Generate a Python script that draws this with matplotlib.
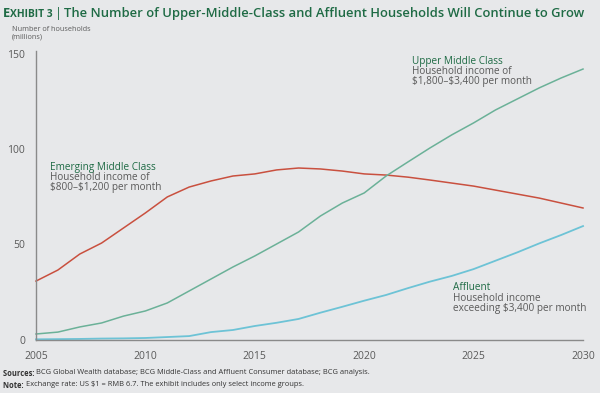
import matplotlib.pyplot as plt
from matplotlib import font_manager

years = list(range(2005, 2031))
emerging = [30.7, 36.5, 44.9, 50.7, 58.6, 66.5, 74.9, 80.1, 83.3, 85.9, 87.0, 89.1, 90.1,
            89.6, 88.5, 87.0, 86.4, 85.3, 83.8, 82.2, 80.6, 78.5, 76.4, 74.3, 71.7, 69.1]
upper_middle = [2.9, 3.9, 6.6, 8.7, 12.3, 15.0, 19.2, 25.5, 31.8, 38.1, 43.9, 50.2, 56.5,
                64.9, 71.7, 77.0, 85.9, 93.3, 100.6, 107.5, 113.8, 120.6, 126.4, 132.2, 137.4, 142.1]
affluent = [0.1, 0.2, 0.3, 0.5, 0.6, 0.8, 1.3, 1.8, 3.9, 5.0, 7.1, 8.8, 10.8,
            14.1, 17.2, 20.4, 23.4, 27.0, 30.4, 33.4, 37.0, 41.4, 45.8, 50.5, 54.9, 59.6]
y_ticks = [0, 50, 100, 150]
x_ticks = [2005, 2010, 2015, 2020, 2025, 2030]

BG = "#E7E8EA"
GREEN_TXT = "#1F6B45"
GREY_TXT = "#5A5A5A"
RED = "#C9503F"
GREEN = "#6BB198"
BLUE = "#6DC3D6"
FONT = "Open Sans"

installed = {f.name for f in font_manager.fontManager.ttflist}
SMALL = "Liberation Sans Narrow" if "Liberation Sans Narrow" in installed else FONT
small_scale = 1.0 if SMALL != FONT else 0.82

plt.rcParams["font.family"] = [FONT, "DejaVu Sans"]
plt.rcParams["text.parse_math"] = False

fig = plt.figure(figsize=(6, 3.93), dpi=100, facecolor=BG)
ax = fig.add_axes([0.06, 0.1361, 0.9117, 0.7265], facecolor=BG)

ax.plot(years, emerging, color=RED, lw=1.1, clip_on=False)
ax.plot(years, upper_middle, color=GREEN, lw=1.1, clip_on=False)
ax.plot(years, affluent, color=BLUE, lw=1.3, clip_on=False)

ax.set_xlim(2005, 2030)
ax.set_ylim(0, 150)
ax.set_xticks(x_ticks)
ax.set_yticks(y_ticks)
ax.tick_params(length=0, labelsize=7.5, labelcolor=GREY_TXT)
ax.tick_params(axis="x", pad=8)
ax.tick_params(axis="y", pad=8)
for s in ["top", "right"]:
    ax.spines[s].set_visible(False)
for s in ["left", "bottom"]:
    ax.spines[s].set_color("#8A8A8A")
    ax.spines[s].set_linewidth(1.0)
ax.spines["left"].set_bounds(0, 151.5)
ax.spines["bottom"].set_position(("data", -0.3))


# series labels
def series_label(x, y, name, lines):
    ax.text(x, y, name, color=GREEN_TXT, fontsize=7.2, va="center", ha="left")
    for i, t in enumerate(lines):
        ax.text(x, y - 5.4 * (i + 1), t, color=GREY_TXT, fontsize=7.2, va="center", ha="left")


series_label(2005.65, 90.4, "Emerging Middle Class", ["Household income of", "$800–$1,200 per month"])
series_label(2022.2, 146.3, "Upper Middle Class", ["Household income of", "$1,800–$3,400 per month"])
series_label(2024.05, 27.1, "Affluent", ["Household income", "exceeding $3,400 per month"])

fig.text(0.02, 0.915, "Number of households\n(millions)", fontsize=6.4 * small_scale, color=GREY_TXT,
         va="center", ha="left", linespacing=1.1, family=SMALL)

renderer = fig.canvas.get_renderer()


def text_run(x, y, parts, color, va="baseline", family=FONT):
    # consecutive pieces of text on one line, each with its own size/weight
    for txt, size, weight in parts:
        t = fig.text(x / 600, 1 - y / 393, txt, fontsize=size, fontweight=weight,
                     color=color, va=va, ha="left", family=family)
        x += t.get_window_extent(renderer).width
    return x


# title with small-caps exhibit label
text_run(3, 17, [("E", 9.3, "bold"), ("XHIBIT 3", 7.4, "bold"), (" ", 6, "normal"),
                 ("|", 9.3, "normal"), (" ", 6, "normal"),
                 ("The Number of Upper-Middle-Class and Affluent Households Will Continue to Grow",
                  9.4, "semibold")], GREEN_TXT)

fs = 6.6 * small_scale
text_run(3, 373, [("Sources: ", fs, "bold"),
                  ("BCG Global Wealth database; BCG Middle-Class and Affluent Consumer database; BCG analysis.",
                   fs, "normal")], "#333333", va="center", family=SMALL)
text_run(3, 385, [("Note: ", fs, "bold"),
                  ("Exchange rate: US $1 = RMB 6.7. The exhibit includes only select income groups.",
                   fs, "normal")], "#333333", va="center", family=SMALL)

fig.savefig("out.png", dpi=100, facecolor=BG)
